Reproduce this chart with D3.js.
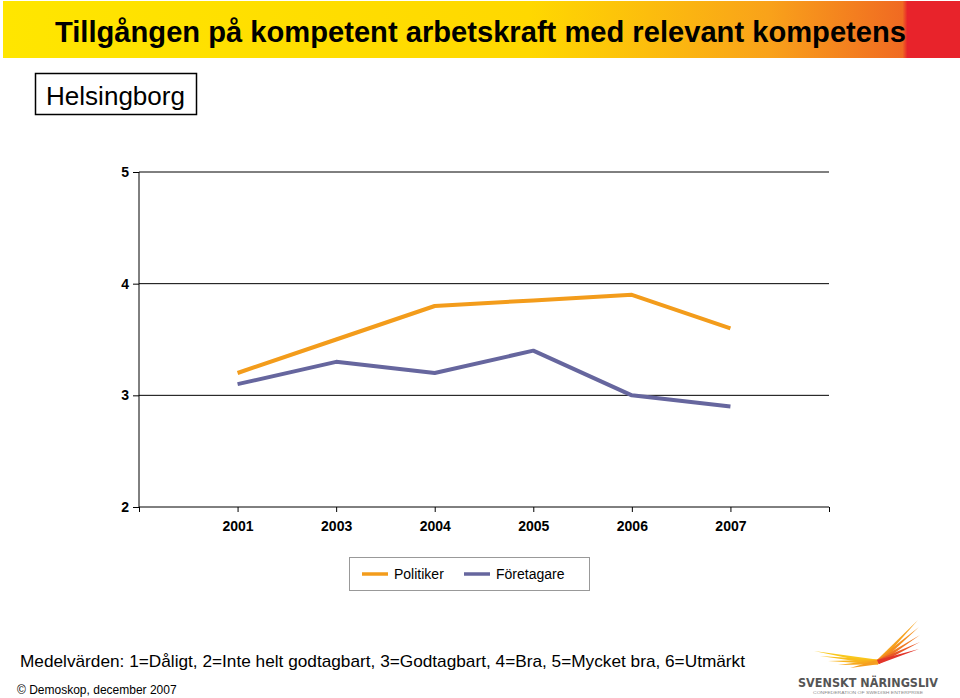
<!DOCTYPE html>
<html><head><meta charset="utf-8">
<script src="https://cdn.jsdelivr.net/npm/d3@7"></script>
<style>body{margin:0;background:#fff}svg{display:block}</style>
</head><body>
<svg id="c" width="960" height="698"></svg>
<script>
const categories = ["", "2001", "2003", "2004", "2005", "2006", "2007", " "];
const years = ["2001", "2003", "2004", "2005", "2006", "2007"];
const politiker = [3.2, 3.5, 3.8, 3.85, 3.9, 3.6];
const foretagare = [3.1, 3.3, 3.2, 3.4, 3.0, 2.9];
const yTicks = [2, 3, 4, 5];
const seriesNames = ["Politiker", "Företagare"];
const seriesColors = ["#F39C1B", "#66669E"];

const svg = d3.select("#c");
const font = "Arial, 'Liberation Sans', Helvetica, sans-serif";

// Title bar
const defs = svg.append("defs");
const g = defs.append("linearGradient").attr("id","tg").attr("x1","0").attr("x2","1");
g.append("stop").attr("offset","0").attr("stop-color","#FFE600");
g.append("stop").attr("offset","0.55").attr("stop-color","#FFD800");
g.append("stop").attr("offset","0.8").attr("stop-color","#F9A21A");
g.append("stop").attr("offset","0.94").attr("stop-color","#F06A22");
g.append("stop").attr("offset","0.945").attr("stop-color","#E8232B");
g.append("stop").attr("offset","1").attr("stop-color","#E8232B");
svg.append("rect").attr("x",3).attr("y",1).attr("width",957).attr("height",57).attr("fill","url(#tg)");
svg.append("text").attr("x",55).attr("y",42).attr("font-family","'Liberation Sans Narrow', 'Arial Narrow', "+font)
  .attr("font-weight","bold").attr("font-size",30).attr("textLength",851).attr("lengthAdjust","spacingAndGlyphs")
  .attr("fill","#000").text("Tillgången på kompetent arbetskraft med relevant kompetens");

// Helsingborg box
svg.append("rect").attr("x",35.5).attr("y",73.5).attr("width",161).attr("height",41).attr("fill","#fff").attr("stroke","#000").attr("stroke-width",1.5);
svg.append("text").attr("x",46).attr("y",105).attr("font-family","'Liberation Sans Narrow', 'Arial Narrow', "+font)
  .attr("font-size",26).attr("textLength",139).attr("lengthAdjust","spacingAndGlyphs").text("Helsingborg");

// Scales
const x = d3.scalePoint().domain(categories).range([139, 829]);
const y = d3.scaleLinear().domain([2, 5]).range([507, 172]);

// Gridlines
svg.append("g").selectAll("line").data(yTicks.filter(d => d > 2)).join("line")
  .attr("x1",139).attr("x2",829).attr("y1",d=>y(d)).attr("y2",d=>y(d))
  .attr("stroke","#000").attr("stroke-width",1);

// Y axis
const yAxis = svg.append("g").attr("transform","translate(139,0)")
  .call(d3.axisLeft(y).tickValues(yTicks).tickFormat(d3.format("d")).tickSize(6).tickPadding(4));
yAxis.selectAll("text").attr("font-family",font).attr("font-weight","bold").attr("font-size",14).attr("fill","#000");
yAxis.selectAll("path,line").attr("stroke","#000");
yAxis.select(".domain").attr("d","M0,"+y(5)+"V"+y(2));

// X axis
const xAxis = svg.append("g").attr("transform","translate(0,507)")
  .call(d3.axisBottom(x).tickSize(6).tickPadding(6).tickSizeOuter(0));
xAxis.selectAll("text").attr("font-family",font).attr("font-weight","bold").attr("font-size",14).attr("fill","#000").attr("dy","0.85em");
xAxis.selectAll("line").attr("y2",5).attr("stroke","#000");
xAxis.select(".domain").attr("stroke","#000").attr("d","M139,0H829");

// Lines
const line = d3.line().x((d,i)=>x(years[i])).y(d=>y(d));
[politiker, foretagare].forEach((s,i)=>{
  svg.append("path").datum(s).attr("d",line).attr("fill","none")
    .attr("stroke",seriesColors[i]).attr("stroke-width",4).attr("stroke-linejoin","round");
});

// Legend
svg.append("rect").attr("x",349.5).attr("y",557.5).attr("width",240).attr("height",33).attr("fill","#fff").attr("stroke","#999").attr("stroke-width",1);
const lx = [362, 464];
seriesNames.forEach((n,i)=>{
  svg.append("line").attr("x1",lx[i]).attr("x2",lx[i]+26).attr("y1",574).attr("y2",574).attr("stroke",seriesColors[i]).attr("stroke-width",3.5);
  svg.append("text").attr("x",lx[i]+32).attr("y",579).attr("font-family",font).attr("font-size",14).attr("fill","#000").text(n);
});

// Footer text
svg.append("text").attr("x",20).attr("y",667).attr("font-family",font).attr("font-size",17).attr("fill","#000")
  .attr("textLength",725).attr("lengthAdjust","spacingAndGlyphs")
  .text("Medelvärden: 1=Dåligt, 2=Inte helt godtagbart, 3=Godtagbart, 4=Bra, 5=Mycket bra, 6=Utmärkt");
svg.append("text").attr("x",17).attr("y",694).attr("font-family",font).attr("font-size",12).attr("fill","#000")
  .text("© Demoskop, december 2007");

// Logo (wing)
const logo = svg.append("g");
const root = [878, 662];
const leftTips = [[814,651,"#F9C81C"],[820,656,"#F9BE1C"],[828,661,"#F8B41D"],[838,665,"#F7A91E"],[850,668,"#F59E1F"]];
const rightTips = [[918,620,"#F7A21D"],[919,627,"#F4901F"],[920,635,"#F07A22"],[920,642,"#E95826"],[919,649,"#E2352A"]];
function feather(t, w){
  const dx = root[0]-t[0], dy = root[1]-t[1], L = Math.hypot(dx,dy);
  const nx = -dy/L*w, ny = dx/L*w;
  return `M${t[0]},${t[1]} L${root[0]+nx},${root[1]+ny} L${root[0]-nx},${root[1]-ny} Z`;
}
leftTips.forEach(t=>logo.append("path").attr("d",feather(t,2.2)).attr("fill",t[2]));
rightTips.forEach(t=>logo.append("path").attr("d",feather(t,2.2)).attr("fill",t[2]));
logo.append("text").attr("x",798).attr("y",687).attr("font-family","'DejaVu Sans', "+font).attr("font-weight","bold")
  .attr("font-size",11.5).attr("fill","#555").attr("textLength",140).attr("lengthAdjust","spacingAndGlyphs").text("SVENSKT NÄRINGSLIV");
logo.append("text").attr("x",813).attr("y",694).attr("font-family",font)
  .attr("font-size",4).attr("fill","#888").attr("textLength",110).attr("lengthAdjust","spacingAndGlyphs").text("CONFEDERATION OF SWEDISH ENTERPRISE");
</script>
</body></html>
